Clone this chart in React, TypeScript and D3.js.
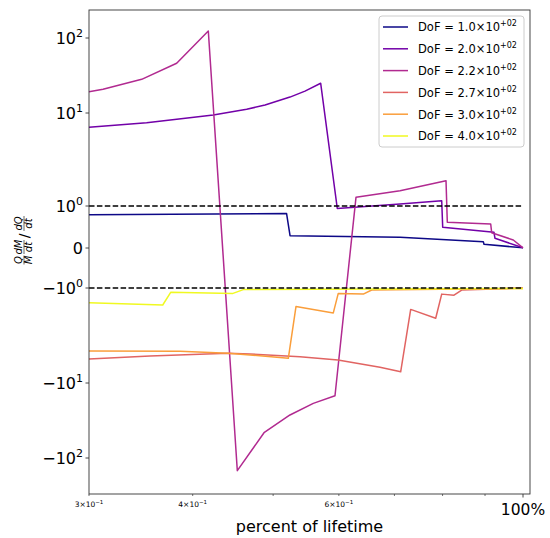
import React from 'react';
import * as d3 from 'd3';

const W = 550;
const H = 538;

// Legend / series
const dofMantissa = ['1.0', '2.0', '2.2', '2.7', '3.0', '4.0'];
const dofColors = ['#0d0887', '#7201a8', '#b12a90', '#e16462', '#fa9e3b', '#f0f921'];

// DoF = 100
const dof100X = [0.3, 0.519, 0.524, 0.711, 0.8957, 0.8975, 1.0];
const dof100Y = [0.79, 0.82, 0.293, 0.255, 0.15, 0.088, 0.005];
// DoF = 200
const dof200X = [0.3, 0.352, 0.4235, 0.4646, 0.4889, 0.5239, 0.5462, 0.5705, 0.5974, 0.711, 0.7981, 0.8003, 0.9227, 0.9252, 1.0];
const dof200Y = [7.01, 7.87, 9.51, 11.2, 12.79, 16.3, 19.6, 24.9, 0.94, 1.05, 1.14, 0.493, 0.374, 0.231, 0.005];
// DoF = 220
const dof220X = [0.3, 0.3119, 0.3472, 0.3826, 0.4177, 0.4527, 0.4875, 0.5239, 0.5589, 0.5936, 0.6292, 0.711, 0.8077, 0.8106, 0.9143, 0.9168, 0.9734, 1.0];
const dof220Y = [19.2, 20.7, 28.1, 46.0, 124, -147.6, -46.0, -26.7, -18.7, -14.8, 1.24, 1.46, 1.87, 0.612, 0.571, 0.364, 0.19, 0.005];
// DoF = 270
const dof270X = [0.3, 0.3553, 0.4411, 0.4689, 0.5387, 0.5985, 0.6725, 0.7123, 0.7323, 0.7849, 0.7981, 0.8258, 0.8436, 1.0];
const dof270Y = [-5.59, -5.2, -4.86, -4.95, -5.28, -5.73, -6.84, -7.61, -1.68, -2.08, -1.16, -1.19, -1.05, -1.0];
// DoF = 300
const dof300X = [0.3, 0.3862, 0.4411, 0.4689, 0.5215, 0.5327, 0.5908, 0.599, 0.6421, 0.6572, 1.0];
const dof300Y = [-4.6, -4.64, -4.86, -5.07, -5.5, -1.57, -1.83, -1.14, -1.16, -1.05, -1.01];
// DoF = 400
const dof400X = [0.3, 0.3681, 0.3763, 0.4473, 0.4603, 1.0];
const dof400Y = [-1.43, -1.51, -1.11, -1.14, -1.04, -1.01];

const seriesX = [dof100X, dof200X, dof220X, dof270X, dof300X, dof400X];
const seriesY = [dof100Y, dof200Y, dof220Y, dof270Y, dof300Y, dof400Y];

// Axis ticks
const yTickValues = [100, 10, 1, 0, -1, -10, -100];
const yTickLabels = [['10', '2'], ['10', '1'], ['10', '0'], ['0', ''], ['\u221210', '0'], ['\u221210', '1'], ['\u221210', '2']];
const xMinorTicks = [0.3, 0.4, 0.5, 0.6, 0.7, 0.8, 0.9];
const xMinorLabels = [['3', '0.3'], ['4', '0.4'], ['6', '0.6']];
const hLines = [1, -1];

const left = 89, right = 530, top = 10, bottom = 494;

const xScale = d3.scaleLog().domain([0.3, 1.0196]).range([left, right]);
const symT = (v: number) => {
  const a = Math.abs(v);
  return Math.sign(v) * (a <= 1 ? a : 1 + Math.log10(a));
};
const yLin = d3.scaleLinear().domain([-3, -2, -1, 0, 1, 2, 3]).range([458, 383, 288, 248, 206, 113, 38]);
const yScale = (v: number) => yLin(symT(v));

const font = 'DejaVu Sans, sans-serif';

export default function App() {
  const line = d3.line<[number, number]>().x(d => xScale(d[0])).y(d => yScale(d[1]));
  return (
    <svg width={W} height={H} style={{ position: 'absolute', left: 0, top: 0, background: '#fff' }} fontFamily={font}>
      <rect x={0} y={0} width={W} height={H} fill="#fff" />
      {/* series */}
      {seriesX.map((xs, i) => {
        const pts = xs.map((x, j) => [x, seriesY[i][j]] as [number, number]);
        return <path key={i} d={line(pts) || ''} fill="none" stroke={dofColors[i]} strokeWidth={1.5} strokeLinejoin="round" />;
      })}
      {/* dashed lines */}
      {hLines.map((v, i) => (
        <line key={i} x1={xScale(0.3)} x2={xScale(1.0)} y1={yScale(v)} y2={yScale(v)} stroke="#000" strokeWidth={1.5} strokeDasharray="5.5 2.4" />
      ))}
      {/* spines */}
      <rect x={left} y={top} width={right - left} height={bottom - top} fill="none" stroke="#333" strokeWidth={0.9} />
      {/* y ticks */}
      {yTickValues.map((v, i) => {
        const y = yScale(v);
        const lab = yTickLabels[i];
        return (
          <g key={i}>
            <line x1={left - 3.5} x2={left} y1={y} y2={y} stroke="#333" strokeWidth={0.9} />
            <text x={left - 6} y={y + 6} fontSize={16} textAnchor="end" fill="#000">
              {lab[0]}
              {lab[1] ? <tspan dy={-7} fontSize={11}>{lab[1]}</tspan> : null}
            </text>
          </g>
        );
      })}
      {/* x ticks */}
      {xMinorTicks.map((v, i) => (
        <line key={i} x1={xScale(v)} x2={xScale(v)} y1={bottom} y2={bottom + 2} stroke="#333" strokeWidth={0.7} />
      ))}
      <line x1={xScale(1)} x2={xScale(1)} y1={bottom} y2={bottom + 3.5} stroke="#333" strokeWidth={0.9} />
      {xMinorLabels.map((l, i) => (
        <text key={i} x={xScale(+l[1])} y={507} fontSize={7.5} textAnchor="middle" fill="#000">
          {l[0]}{'\u00d7'}10<tspan dy={-3} fontSize={5.5}>{'\u22121'}</tspan>
        </text>
      ))}
      <text x={xScale(1)} y={515} fontSize={15.5} textAnchor="middle" fill="#000">100%</text>
      <text x={(left + right) / 2} y={532} fontSize={16} textAnchor="middle" fill="#000">percent of lifetime</text>
      {/* y label */}
      <g transform="translate(24,238) rotate(-90)" fontStyle="italic" fontSize={10} fill="#000">
        <text x={-22} y={-1.8} textAnchor="middle">Q</text>
        <text x={-22} y={8.2} textAnchor="middle">M</text>
        <line x1={-26.5} x2={-17.5} y1={0} y2={0} stroke="#000" strokeWidth={0.6} />
        <text x={-9} y={-1.8} textAnchor="middle">dM</text>
        <text x={-9} y={8.2} textAnchor="middle">dt</text>
        <line x1={-16} x2={-2} y1={0} y2={0} stroke="#000" strokeWidth={0.6} />
        <text x={2} y={5} textAnchor="middle" fontSize={14} fontStyle="normal">/</text>
        <text x={14.5} y={-1.8} textAnchor="middle">dQ</text>
        <text x={14.5} y={8.2} textAnchor="middle">dt</text>
        <line x1={7} x2={22} y1={0} y2={0} stroke="#000" strokeWidth={0.6} />
      </g>
      {/* legend */}
      <rect x={379} y={16} width={145} height={131} rx={3} fill="#fff" fillOpacity={0.8} stroke="#ccc" strokeWidth={1} />
      {dofMantissa.map((m, i) => {
        const cy = 27 + i * 21.8;
        return (
          <g key={i}>
            <line x1={383} x2={408} y1={cy} y2={cy} stroke={dofColors[i]} strokeWidth={1.5} />
            <text x={418} y={cy + 4.3} fontSize={11.5} fill="#000">
              DoF = {m}{'\u00d7'}10<tspan dy={-5} fontSize={8}>+02</tspan>
            </text>
          </g>
        );
      })}
    </svg>
  );
}
